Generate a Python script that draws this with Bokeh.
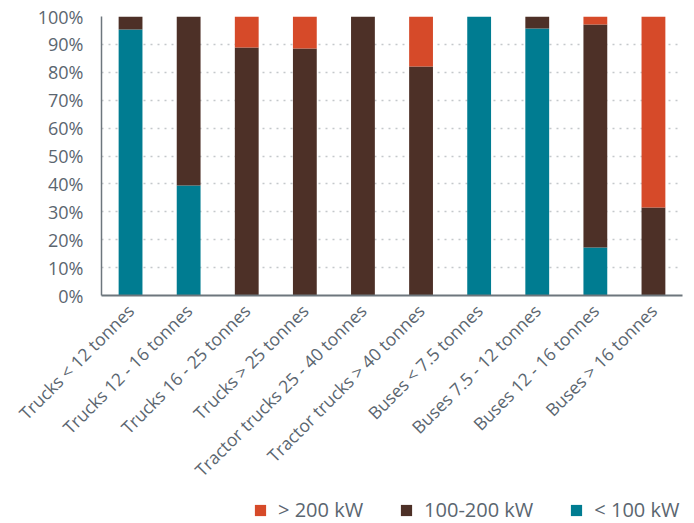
import math
from bokeh.plotting import figure
from bokeh.layouts import column
from bokeh.models import (ColumnDataSource, FactorRange, Range1d, FixedTicker,
                          PrintfTickFormatter, Legend, LegendItem)
from bokeh.embed import file_html
from bokeh.resources import INLINE

categories = ["Trucks < 12 tonnes", "Trucks 12 - 16 tonnes", "Trucks 16 - 25 tonnes",
              "Trucks > 25 tonnes", "Tractor trucks 25 - 40 tonnes",
              "Tractor trucks > 40 tonnes", "Buses < 7.5 tonnes",
              "Buses 7.5 - 12 tonnes", "Buses 12 - 16 tonnes", "Buses > 16 tonnes"]
below_100 = [95.3, 39.4, 0, 0, 0, 0, 100, 95.7, 17.2, 0]
mid_100_200 = [4.7, 60.6, 88.9, 88.5, 100, 82.1, 0, 4.3, 79.9, 31.5]
above_200 = [0, 0, 11.1, 11.5, 0, 17.9, 0, 0, 2.9, 68.5]
series = ["below_100", "mid_100_200", "above_200"]
series_labels = ["< 100 kW", "100-200 kW", "> 200 kW"]
colors = ["#007C91", "#4D3027", "#D64A29"]
y_ticks = [0, 10, 20, 30, 40, 50, 60, 70, 80, 90, 100]

source = ColumnDataSource(dict(cat=categories, below_100=below_100,
                               mid_100_200=mid_100_200, above_200=above_200))

FONT = "Open Sans"
TXT = "#5b6670"
AXIS = "#6d767d"

p = figure(x_range=FactorRange(*categories), y_range=Range1d(0, 100),
           width=694, height=493, output_backend="svg", toolbar_location=None,
           min_border_left=101, min_border_right=12, min_border_top=16,
           min_border_bottom=198, outline_line_color=None)

renderers = p.vbar_stack(series, x="cat", width=0.41, color=colors, source=source,
                         line_color=None)

p.xaxis.major_label_orientation = math.pi / 4
p.xaxis.major_tick_line_color = None
p.xaxis.minor_tick_line_color = None
p.xaxis.axis_line_color = AXIS
p.xaxis.axis_line_width = 2
p.xaxis.major_label_text_font = FONT
p.xaxis.major_label_text_font_size = "17.5px"
p.xaxis.major_label_text_color = TXT
p.xaxis.major_label_standoff = 6

p.yaxis.ticker = FixedTicker(ticks=y_ticks)
p.yaxis.formatter = PrintfTickFormatter(format="%d%%")
p.yaxis.major_tick_line_color = None
p.yaxis.minor_tick_line_color = None
p.yaxis.axis_line_color = AXIS
p.yaxis.axis_line_width = 1.5
p.yaxis.major_label_text_font = FONT
p.yaxis.major_label_text_font_size = "18px"
p.yaxis.major_label_text_color = TXT
p.yaxis.major_label_standoff = 12

p.xgrid.grid_line_color = None
p.ygrid.grid_line_color = "#c4c8cb"
p.ygrid.grid_line_dash = "2 5"
p.ygrid.grid_line_width = 1.5

# legend strip below the chart; zero-height bars only provide the legend swatches
lf = figure(width=694, height=30, output_backend="svg", toolbar_location=None,
            x_range=Range1d(0, 1), y_range=Range1d(0, 1),
            min_border_left=101, min_border_right=12, min_border_top=0,
            min_border_bottom=0, outline_line_color=None)
lf.axis.visible = False
lf.grid.visible = False
swatch_src = ColumnDataSource(dict(x=[0.5], top=[0], bottom=[0]))
lrs = [lf.vbar(x="x", top="top", bottom="bottom", width=0.01, fill_color=c,
               line_color=None, source=swatch_src) for c in colors]
items = [LegendItem(label=series_labels[i], renderers=[lrs[i]]) for i in [2, 1, 0]]
legend = Legend(items=items, orientation="horizontal", location=(152, 0),
                label_text_font=FONT, label_text_font_size="20px",
                label_text_color=TXT, glyph_width=14, glyph_height=14,
                label_height=14, spacing=36, label_standoff=11, border_line_color=None,
                background_fill_alpha=0, padding=0, margin=0)
lf.add_layout(legend, "center")

layout = column(p, lf, spacing=0)
open("out.html", "w").write(file_html(layout, INLINE))
